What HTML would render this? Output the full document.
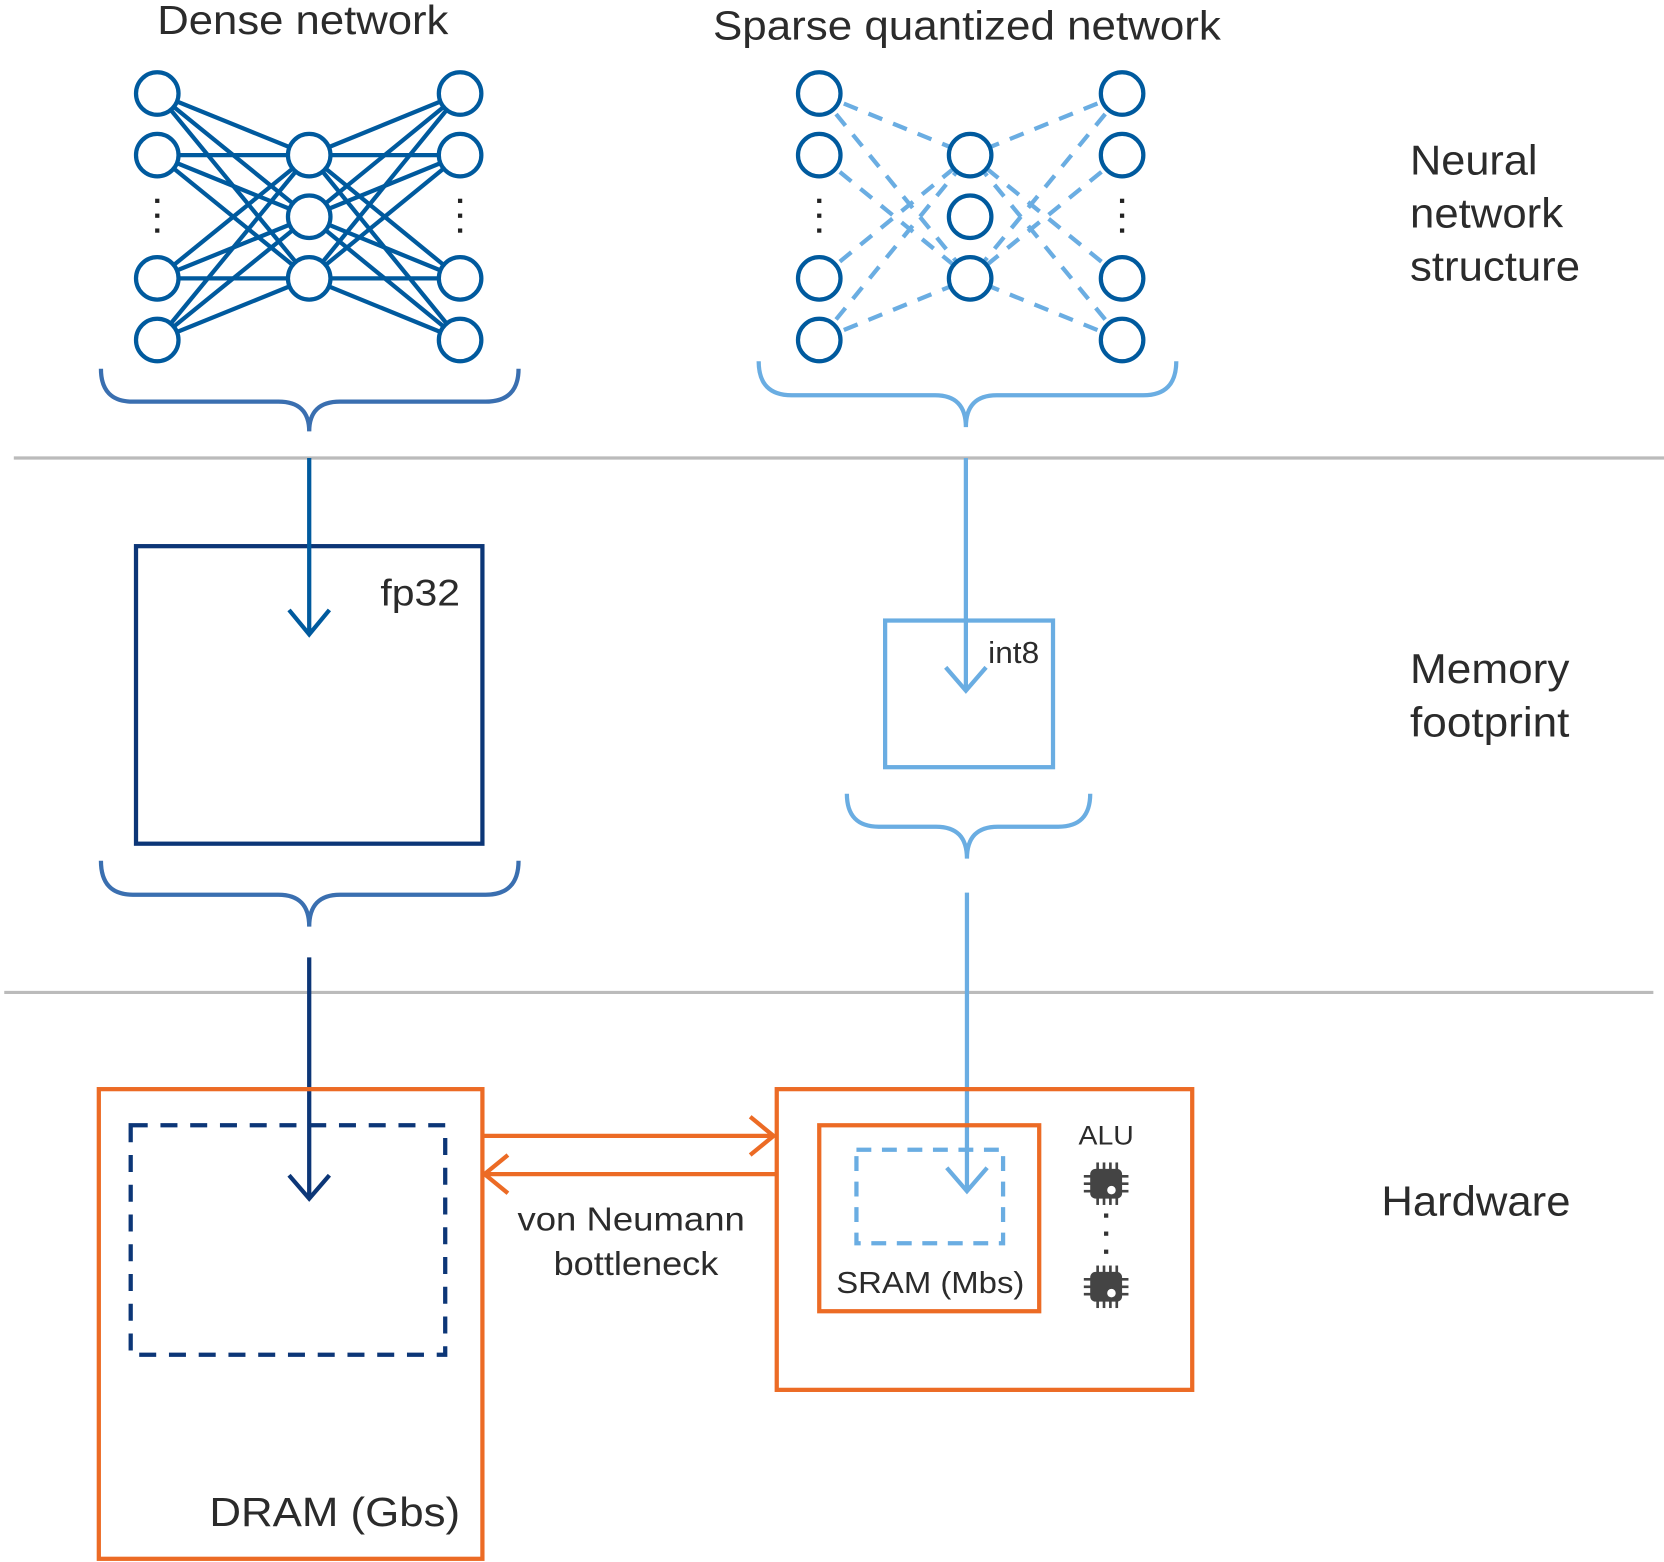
<!DOCTYPE html>
<html><head><meta charset="utf-8"><style>
html,body{margin:0;padding:0;background:#fff}
svg{display:block}
text{font-family:"Liberation Sans",Arial,sans-serif;fill:#2b2b2b}
</style></head><body>
<svg width="1664" height="1562" viewBox="0 0 1566 1470" xmlns="http://www.w3.org/2000/svg">
<defs>
<g id="chip">
<rect x="-15" y="-14" width="30" height="28" rx="5" fill="#444"/>
<g stroke="#444" stroke-width="2.5">
<line x1="-8" y1="-20" x2="-8" y2="20"/><line x1="-2" y1="-20" x2="-2" y2="20"/><line x1="4" y1="-20" x2="4" y2="20"/><line x1="10" y1="-20" x2="10" y2="20"/>
<line x1="-21" y1="-7" x2="21" y2="-7"/><line x1="-21" y1="0" x2="21" y2="0"/><line x1="-21" y1="7" x2="21" y2="7"/>
</g>
<circle cx="5" cy="6" r="4" fill="#fff"/>
</g>
</defs>

<text x="148" y="32" font-size="38" textLength="274" lengthAdjust="spacingAndGlyphs">Dense network</text>
<text x="671" y="37" font-size="38" textLength="478" lengthAdjust="spacingAndGlyphs">Sparse quantized network</text>

<g stroke="#005a9e" stroke-width="4">
<line x1="148" y1="88" x2="291" y2="146"/><line x1="148" y1="88" x2="291" y2="204"/><line x1="148" y1="88" x2="291" y2="262"/>
<line x1="148" y1="146" x2="291" y2="146"/><line x1="148" y1="146" x2="291" y2="204"/><line x1="148" y1="146" x2="291" y2="262"/>
<line x1="148" y1="262" x2="291" y2="146"/><line x1="148" y1="262" x2="291" y2="204"/><line x1="148" y1="262" x2="291" y2="262"/>
<line x1="148" y1="320" x2="291" y2="146"/><line x1="148" y1="320" x2="291" y2="204"/><line x1="148" y1="320" x2="291" y2="262"/>
<line x1="433" y1="88" x2="291" y2="146"/><line x1="433" y1="88" x2="291" y2="204"/><line x1="433" y1="88" x2="291" y2="262"/>
<line x1="433" y1="146" x2="291" y2="146"/><line x1="433" y1="146" x2="291" y2="204"/><line x1="433" y1="146" x2="291" y2="262"/>
<line x1="433" y1="262" x2="291" y2="146"/><line x1="433" y1="262" x2="291" y2="204"/><line x1="433" y1="262" x2="291" y2="262"/>
<line x1="433" y1="320" x2="291" y2="146"/><line x1="433" y1="320" x2="291" y2="204"/><line x1="433" y1="320" x2="291" y2="262"/>
</g>
<g stroke="#005a9e" stroke-width="4" fill="#fff">
<circle cx="148" cy="88" r="20"/><circle cx="148" cy="146" r="20"/><circle cx="148" cy="262" r="20"/><circle cx="148" cy="320" r="20"/>
<circle cx="291" cy="146" r="20"/><circle cx="291" cy="204" r="20"/><circle cx="291" cy="262" r="20"/>
<circle cx="433" cy="88" r="20"/><circle cx="433" cy="146" r="20"/><circle cx="433" cy="262" r="20"/><circle cx="433" cy="320" r="20"/>
</g>
<g fill="#222">
<rect x="146" y="187" width="4" height="4"/><rect x="146" y="201" width="4" height="4"/><rect x="146" y="215" width="4" height="4"/>
<rect x="431" y="187" width="4" height="4"/><rect x="431" y="201" width="4" height="4"/><rect x="431" y="215" width="4" height="4"/>
<rect x="769" y="187" width="4" height="4"/><rect x="769" y="201" width="4" height="4"/><rect x="769" y="215" width="4" height="4"/>
<rect x="1054" y="187" width="4" height="4"/><rect x="1054" y="201" width="4" height="4"/><rect x="1054" y="215" width="4" height="4"/>
</g>

<g stroke="#6aade2" stroke-width="4" stroke-dasharray="14,11">
<line x1="771" y1="88" x2="913" y2="146"/><line x1="771" y1="88" x2="913" y2="262"/>
<line x1="771" y1="146" x2="913" y2="262"/><line x1="771" y1="262" x2="913" y2="146"/>
<line x1="771" y1="320" x2="913" y2="146"/><line x1="771" y1="320" x2="913" y2="262"/>
<line x1="1056" y1="88" x2="913" y2="146"/><line x1="1056" y1="88" x2="913" y2="262"/>
<line x1="1056" y1="146" x2="913" y2="262"/><line x1="1056" y1="262" x2="913" y2="146"/>
<line x1="1056" y1="320" x2="913" y2="146"/><line x1="1056" y1="320" x2="913" y2="262"/>
</g>
<g stroke="#005a9e" stroke-width="4" fill="#fff">
<circle cx="771" cy="88" r="20"/><circle cx="771" cy="146" r="20"/><circle cx="771" cy="262" r="20"/><circle cx="771" cy="320" r="20"/>
<circle cx="913" cy="146" r="20"/><circle cx="913" cy="204" r="20"/><circle cx="913" cy="262" r="20"/>
<circle cx="1056" cy="88" r="20"/><circle cx="1056" cy="146" r="20"/><circle cx="1056" cy="262" r="20"/><circle cx="1056" cy="320" r="20"/>
</g>

<g fill="none" stroke-width="4">
<path d="M95,347 Q95,378 125,378 L262,378 Q291,378 291,406 Q291,378 320,378 L457,378 Q488,378 488,347" stroke="#3a6fb0"/>
<path d="M714,340 Q714,372 745,372 L880,372 Q909,372 909,402 Q909,372 938,372 L1076,372 Q1107,372 1107,340" stroke="#6aade2"/>
<path d="M95,810 Q95,842 125,842 L262,842 Q291,842 291,872 Q291,842 320,842 L457,842 Q488,842 488,810" stroke="#3a6fb0"/>
<path d="M797,747 Q797,778 827,778 L881,778 Q910,778 910,808 Q910,778 939,778 L996,778 Q1026,778 1026,747" stroke="#6aade2"/>
</g>

<line x1="13" y1="431" x2="1566" y2="431" stroke="#bbb" stroke-width="3"/>
<line x1="4" y1="934" x2="1556" y2="934" stroke="#bbb" stroke-width="3"/>

<rect x="128" y="514" width="326" height="280" fill="none" stroke="#0c3677" stroke-width="4"/>
<text x="358" y="570" font-size="35" textLength="75" lengthAdjust="spacingAndGlyphs">fp32</text>
<rect x="833" y="584" width="158" height="138" fill="none" stroke="#6aade2" stroke-width="4"/>
<text x="930" y="624" font-size="29" textLength="48" lengthAdjust="spacingAndGlyphs">int8</text>

<g fill="none" stroke-width="4">
<path d="M291,431 V597 M272,574 L291,597 L310,574" stroke="#005a9e"/>
<path d="M909,431 V650 M890,628 L909,650 L928,628" stroke="#6aade2"/>
<path d="M291,901 V1128 M272,1106 L291,1128 L310,1106" stroke="#0c3677"/>
<path d="M910,840 V1121 M891,1099 L910,1121 L929,1099" stroke="#6aade2"/>
</g>

<rect x="93" y="1025" width="361" height="442" fill="none" stroke="#ec6b25" stroke-width="4"/>
<rect x="123" y="1059" width="296" height="216" fill="none" stroke="#0c3677" stroke-width="4" stroke-dasharray="16,12"/>
<text x="197" y="1436" font-size="38" textLength="236" lengthAdjust="spacingAndGlyphs">DRAM (Gbs)</text>
<rect x="731" y="1025" width="391" height="283" fill="none" stroke="#ec6b25" stroke-width="4"/>
<rect x="771" y="1059" width="207" height="175" fill="none" stroke="#ec6b25" stroke-width="4"/>
<rect x="806" y="1082" width="138" height="88" fill="none" stroke="#6aade2" stroke-width="4" stroke-dasharray="14,10"/>
<text x="787" y="1217" font-size="29" textLength="177" lengthAdjust="spacingAndGlyphs">SRAM (Mbs)</text>
<text x="1015" y="1077" font-size="25" textLength="52" lengthAdjust="spacingAndGlyphs">ALU</text>
<use href="#chip" x="1041" y="1114"/>
<use href="#chip" x="1041" y="1211"/>
<g fill="#333"><rect x="1039" y="1142" width="4" height="4"/><rect x="1039" y="1159" width="4" height="4"/><rect x="1039" y="1176" width="4" height="4"/></g>

<g fill="none" stroke="#ec6b25" stroke-width="4">
<path d="M454,1069 H728 M706,1051 L728,1069 L706,1087"/>
<path d="M731,1105 H456 M478,1087 L456,1105 L478,1123"/>
</g>
<text x="487" y="1158" font-size="31" textLength="214" lengthAdjust="spacingAndGlyphs">von Neumann</text>
<text x="521" y="1200" font-size="31" textLength="155" lengthAdjust="spacingAndGlyphs">bottleneck</text>

<text x="1327" y="164" font-size="39" textLength="120" lengthAdjust="spacingAndGlyphs">Neural</text>
<text x="1327" y="214" font-size="39" textLength="144" lengthAdjust="spacingAndGlyphs">network</text>
<text x="1327" y="264" font-size="39" textLength="160" lengthAdjust="spacingAndGlyphs">structure</text>
<text x="1327" y="643" font-size="39" textLength="150" lengthAdjust="spacingAndGlyphs">Memory</text>
<text x="1327" y="693" font-size="39" textLength="150" lengthAdjust="spacingAndGlyphs">footprint</text>
<text x="1300" y="1144" font-size="39" textLength="178" lengthAdjust="spacingAndGlyphs">Hardware</text>
</svg>
</body></html>
